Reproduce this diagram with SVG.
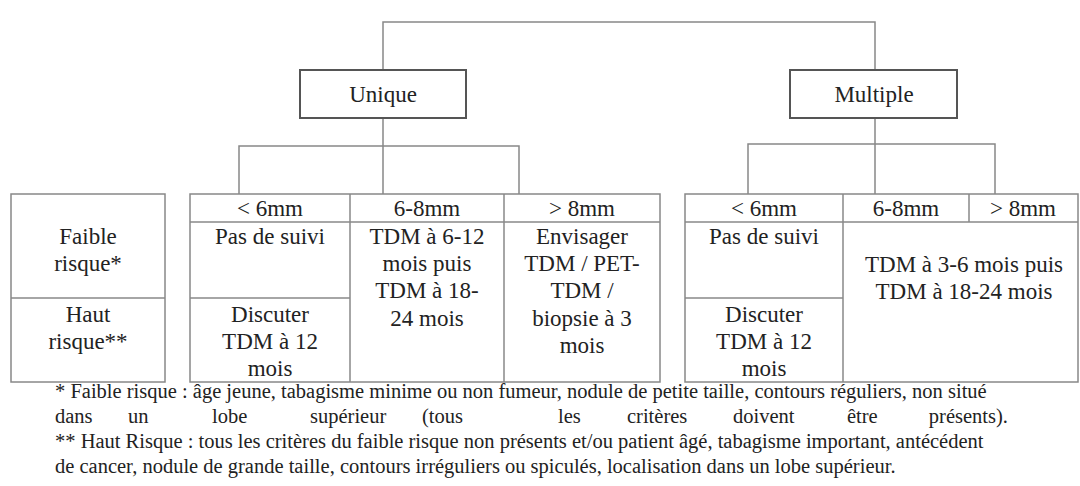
<svg xmlns="http://www.w3.org/2000/svg" width="1080" height="486" viewBox="0 0 1080 486">
<style>
.cell{fill:none;stroke:#888888;stroke-width:1.5}
.box{fill:#ffffff;stroke:#555555;stroke-width:2}
</style>
<rect width="1080" height="486" fill="#ffffff"/>
<g id="connectors" fill="none" stroke="#888888" stroke-width="1.5">
<path d="M383,70 V22 H875 V70"/>
<path d="M383,118 V194 M239,194 V146 H519 V194"/>
<path d="M875,118 V194 M748,194 V144 H995 V194"/>
</g>
<g id="unique">
<rect class="box" x="300" y="70" width="166" height="48"/>
<text x="383" y="102" font-family="Times New Roman, serif" font-size="23" text-anchor="middle" fill="#222222">Unique</text>
</g>
<g id="multiple">
<rect class="box" x="790" y="70" width="167" height="48"/>
<text x="874" y="102" font-family="Times New Roman, serif" font-size="23" text-anchor="middle" fill="#222222">Multiple</text>
</g>
<g id="risk-labels">
<rect class="cell" x="11" y="194" width="154" height="188"/>
<line class="cell" x1="11" y1="298" x2="165" y2="298"/>
<g font-family="Times New Roman, serif" font-size="23" text-anchor="middle" fill="#222222">
<text x="88" y="244">Faible</text>
<text x="88" y="271">risque*</text>
<text x="88" y="322">Haut</text>
<text x="88" y="349">risque**</text>
</g>
</g>
<g id="unique-table">
<rect class="cell" x="190" y="194" width="470" height="188"/>
<line class="cell" x1="190" y1="222" x2="660" y2="222"/>
<line class="cell" x1="350" y1="194" x2="350" y2="382"/>
<line class="cell" x1="504" y1="194" x2="504" y2="382"/>
<line class="cell" x1="190" y1="298" x2="350" y2="298"/>
<g font-family="Times New Roman, serif" font-size="23" text-anchor="middle" fill="#222222">
<text x="270" y="216">&lt; 6mm</text>
<text x="427" y="216">6-8mm</text>
<text x="582" y="216">&gt; 8mm</text>
<text x="270" y="244">Pas de suivi</text>
<text x="270" y="322">Discuter</text>
<text x="270" y="349">TDM à 12</text>
<text x="270" y="376">mois</text>
<text x="427" y="244">TDM à 6-12</text>
<text x="427" y="271">mois puis</text>
<text x="427" y="298">TDM à 18-</text>
<text x="427" y="326">24 mois</text>
<text x="582" y="244">Envisager</text>
<text x="582" y="271">TDM / PET-</text>
<text x="582" y="298">TDM /</text>
<text x="582" y="326">biopsie à 3</text>
<text x="582" y="353">mois</text>
</g>
</g>
<g id="multiple-table">
<rect class="cell" x="685" y="194" width="393" height="188"/>
<line class="cell" x1="685" y1="222" x2="1078" y2="222"/>
<line class="cell" x1="843" y1="194" x2="843" y2="382"/>
<line class="cell" x1="969" y1="194" x2="969" y2="222"/>
<line class="cell" x1="685" y1="298" x2="843" y2="298"/>
<g font-family="Times New Roman, serif" font-size="23" text-anchor="middle" fill="#222222">
<text x="764" y="216">&lt; 6mm</text>
<text x="906" y="216">6-8mm</text>
<text x="1023" y="216">&gt; 8mm</text>
<text x="764" y="244">Pas de suivi</text>
<text x="764" y="322">Discuter</text>
<text x="764" y="349">TDM à 12</text>
<text x="764" y="376">mois</text>
<text x="964" y="272">TDM à 3-6 mois puis</text>
<text x="964" y="299">TDM à 18-24 mois</text>
</g>
</g>
<g id="footnotes" font-family="Times New Roman, serif" font-size="20.5" fill="#222222">
<text x="55" y="398">* Faible risque : âge jeune, tabagisme minime ou non fumeur, nodule de petite taille, contours réguliers, non situé</text>
<text x="55" y="423">dans</text>
<text x="128" y="423">un</text>
<text x="212" y="423">lobe</text>
<text x="310" y="423">supérieur</text>
<text x="422" y="423">(tous</text>
<text x="558" y="423">les</text>
<text x="627" y="423">critères</text>
<text x="733" y="423">doivent</text>
<text x="847" y="423">être</text>
<text x="1008" y="423" text-anchor="end">présents).</text>
<text x="55" y="448">** Haut Risque : tous les critères du faible risque non présents et/ou patient âgé, tabagisme important, antécédent</text>
<text x="55" y="473">de cancer, nodule de grande taille, contours irréguliers ou spiculés, localisation dans un lobe supérieur.</text>
</g>
</svg>
